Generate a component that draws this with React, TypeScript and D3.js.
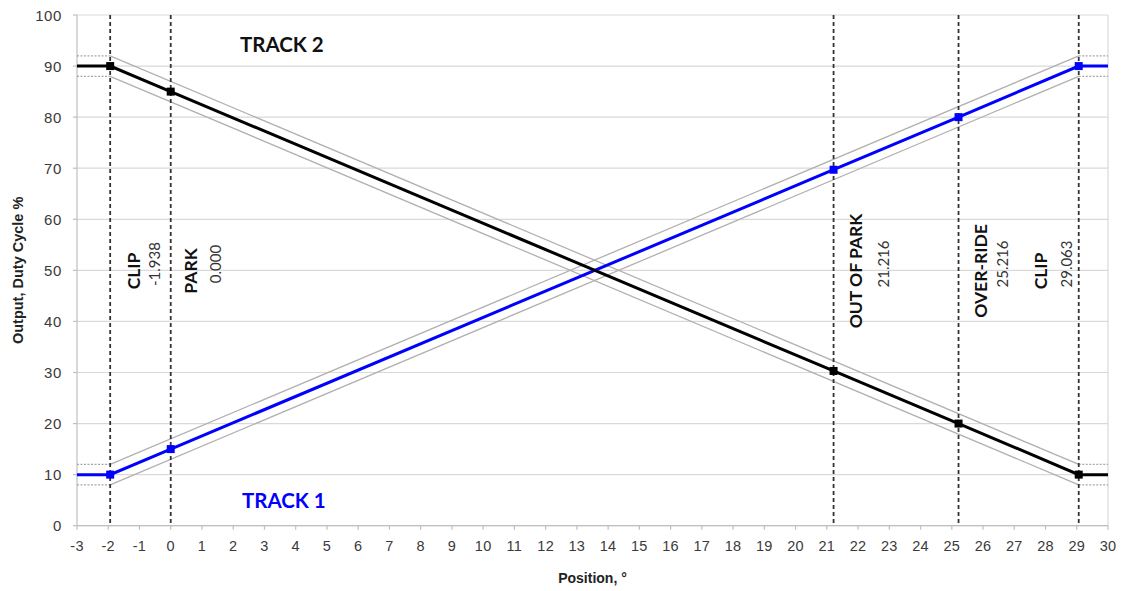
import React from "react";
import * as d3 from "d3";

const positions = [-3, -1.938, 0, 21.216, 25.216, 29.063, 30];
const track1 = [10, 10, 15, 69.7, 80, 90, 90];
const track2 = [90, 90, 85, 30.3, 20, 10, 10];
const bandOffset = 2;
const markerIdx = [1, 2, 3, 4, 5];
const markerX = [-1.938, 0, 21.216, 25.216, 29.063];
const markerNames = ["CLIP", "PARK", "OUT OF PARK", "OVER-RIDE", "CLIP"];
const markerValues = ["-1.938", "0.000", "21.216", "25.216", "29.063"];
const xTicks = d3.range(-3, 31, 1);
const yTicks = d3.range(0, 101, 10);

// label pixel offsets from their dashed line (name, value)
const nameDx = [30, 26, 28, 28, -32];
const valueDx = [50, 50, 55, 49, -7];

const W = 1121, H = 591;
const L = 77, R = 1108, T = 15, B = 525.7;

export default function App() {
  const x = d3.scaleLinear().domain([-3, 30]).range([L, R]);
  const y = d3.scaleLinear().domain([0, 100]).range([B, T]);
  const line = d3.line<[number, number]>().x(d => x(d[0])).y(d => y(d[1]));

  const series = [
    { vals: track1, color: "#0000ff" },
    { vals: track2, color: "#000000" },
  ];

  const bandParts = (vals: number[], off: number) => {
    const pts: [number, number][] = positions.map((p, i) => [p, vals[i] + off]);
    const n = pts.length;
    return {
      flatA: [pts[0], pts[1]] as [number, number][],
      slope: [pts[1], pts[n - 2]] as [number, number][],
      flatB: [pts[n - 2], pts[n - 1]] as [number, number][],
    };
  };

  return (
    <svg width={W} height={H} style={{ position: "absolute", left: 0, top: 0, background: "#fff" }}>
      {yTicks.map(t => (
        <line key={"g" + t} x1={L} x2={R} y1={y(t)} y2={y(t)} stroke="#d9d9d9" strokeWidth={1.2} />
      ))}
      <line x1={R} x2={R} y1={T} y2={B} stroke="#d9d9d9" strokeWidth={1.2} />
      <line x1={L} x2={L} y1={T} y2={B} stroke="#bfbfbf" strokeWidth={1.2} />
      <line x1={L} x2={R} y1={B} y2={B} stroke="#bfbfbf" strokeWidth={1.2} />
      {xTicks.map(t => (
        <line key={"xt" + t} x1={x(t)} x2={x(t)} y1={B} y2={B + 4} stroke="#bfbfbf" strokeWidth={1.2} />
      ))}
      {yTicks.map(t => (
        <line key={"yt" + t} x1={L - 4} x2={L} y1={y(t)} y2={y(t)} stroke="#bfbfbf" strokeWidth={1.2} />
      ))}
      {yTicks.map(t => (
        <text key={"yl" + t} x={62} y={y(t) + 5.5} textAnchor="end" fontFamily="Liberation Sans, Arial" fontSize={15} letterSpacing={0.6} fill="#3a3a3a">{t}</text>
      ))}
      {xTicks.map(t => (
        <text key={"xl" + t} x={x(t)} y={551} textAnchor="middle" fontFamily="Liberation Sans, Arial" fontSize={14.5} letterSpacing={0.3} fill="#3a3a3a">{t}</text>
      ))}
      <text transform={`translate(23,${(T + B) / 2}) rotate(-90)`} textAnchor="middle" fontFamily="Liberation Sans, Arial" fontWeight="bold" fontSize={14.5} fill="#222">Output, Duty Cycle %</text>
      <text x={(L + R) / 2} y={583} textAnchor="middle" fontFamily="Liberation Sans, Arial" fontWeight="bold" fontSize={14} fill="#222">Position, °</text>

      {series.map((s, si) =>
        [bandOffset, -bandOffset].map(off => {
          const b = bandParts(s.vals, off);
          return (
            <g key={"band" + si + off}>
              <path d={line(b.flatA) || ""} fill="none" stroke="#a8a8a8" strokeWidth={1.3} strokeDasharray="2,1.5" />
              <path d={line(b.slope) || ""} fill="none" stroke="#b0b0b0" strokeWidth={1.3} />
              <path d={line(b.flatB) || ""} fill="none" stroke="#a8a8a8" strokeWidth={1.3} strokeDasharray="2,1.5" />
            </g>
          );
        })
      )}

      {markerX.map((mx, i) => (
        <line key={"v" + i} x1={x(mx)} x2={x(mx)} y1={y(100)} y2={y(0)} stroke="#333" strokeWidth={1.8} strokeDasharray="4,3" />
      ))}

      {series.map((s, si) => (
        <path key={"l" + si} d={line(positions.map((p, i) => [p, s.vals[i]] as [number, number])) || ""} fill="none" stroke={s.color} strokeWidth={3} />
      ))}
      {series.map((s, si) =>
        markerIdx.map(i => (
          <rect key={"m" + si + i} x={x(positions[i]) - 4} y={y(s.vals[i]) - 4} width={8} height={8} fill={s.color} />
        ))
      )}

      {markerX.map((mx, i) => {
        const xp = x(mx);
        return (
          <g key={"lab" + i}>
            <text transform={`translate(${xp + nameDx[i]},271) rotate(-90)`} textAnchor="middle" fontFamily="Lato, Open Sans, sans-serif" fontWeight="bold" fontSize={17.5} fill="#111">{markerNames[i]}</text>
            <text transform={`translate(${xp + valueDx[i]},264) rotate(-90)`} textAnchor="middle" fontFamily="Lato, Open Sans, sans-serif" fontSize={15} fill="#333">{markerValues[i]}</text>
          </g>
        );
      })}

      <text x={240} y={52} fontFamily="Lato, Open Sans, sans-serif" fontWeight="bold" fontSize={20.5} fill="#111">TRACK 2</text>
      <text x={242} y={508} fontFamily="Lato, Open Sans, sans-serif" fontWeight="bold" fontSize={20.5} fill="#0000ff">TRACK 1</text>
    </svg>
  );
}
